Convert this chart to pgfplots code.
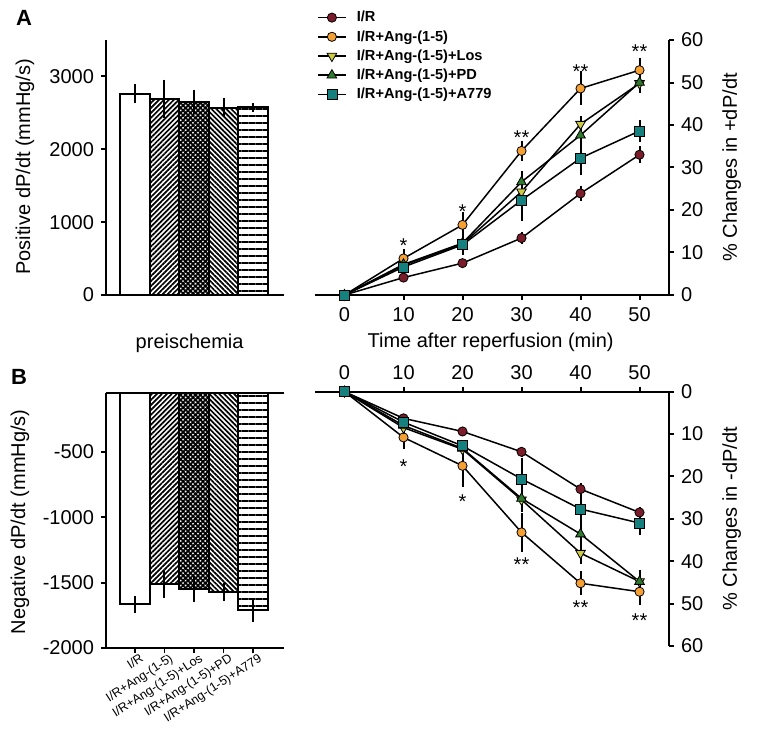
\documentclass[border=0pt]{standalone}
\usepackage{fontspec}
\setmainfont{Liberation Sans}
\usepackage{pgfplots}
\pgfplotsset{compat=1.18}
\usetikzlibrary{patterns.meta}
\definecolor{cIR}{HTML}{7B1C2A}
\definecolor{cAng}{HTML}{F5A033}
\definecolor{cLos}{HTML}{CDCB45}
\definecolor{cPD}{HTML}{2E7A2E}
\definecolor{cA}{HTML}{16807F}

\tikzset{star/.style={anchor=base, font=\fontsize{10}{12}\selectfont, inner sep=0pt}}
\pgfplotsset{
  base/.style={
    scale only axis,
    /pgf/number format/assume math mode=true,
    /pgf/number format/1000 sep={},
    tick label style={font=\fontsize{10}{12}\selectfont},
    label style={font=\fontsize{9}{11}\selectfont},
    axis line style={line width=1pt},
    every tick/.style={line width=1pt, black},
    major tick length=2.5pt,
    tick align=outside,
    separate axis lines,
  },
  eb/.style={error bars/y dir=both, error bars/y explicit, error bars/error mark=none,
    error bars/error bar style={line width=1pt, black}},
  barsty/.style={ybar, bar width=14.8pt, bar shift=0pt, draw=black, line width=1pt, eb},
  lp/.style={line width=0.75pt, black,
    mark options={draw=black, line width=0.4pt, solid}, eb},
  pNE/.style={pattern={Lines[angle=45,distance=1.75pt,line width=0.85pt]}},
  pX/.style={pattern={Hatch[angle=45,distance=1.75pt,line width=0.9pt]}},
  pNW/.style={pattern={Lines[angle=-45,distance=1.75pt,line width=0.85pt]}},
  pH/.style={pattern={Lines[angle=0,distance=3.5pt,line width=0.95pt]}},
}

\begin{document}
\begin{tikzpicture}
\useasboundingbox (0,0) rectangle (379pt,369.5pt);
\node[font=\bfseries\fontsize{11}{13}\selectfont] at (12pt,360.5pt) {A};
\node[font=\bfseries\fontsize{11}{13}\selectfont] at (9.5pt,181pt) {B};

% ---------------- A left
\begin{axis}[base,
  at={(53pt,222pt)}, anchor=south west,
  width=89pt, height=127.5pt,
  xmin=0.027, xmax=6.04, ymin=0, ymax=3500,
  axis x line*=bottom, axis y line*=left,
  xtick=\empty, ytick={0,1000,2000,3000},
  xlabel={preischemia}, ylabel={Positive dP/dt (mmHg/s)},
  every axis x label/.style={at={(axis description cs:0.47,-0.188)}, anchor=center},
  every axis y label/.style={at={(axis description cs:-0.455,0.503)}, rotate=90, anchor=center},
]
\addplot[barsty, fill=white] coordinates {(1,2760) +- (0,130)};
\addplot[barsty, pNE] coordinates {(2,2696) +- (0,260)};
\addplot[barsty, pX] coordinates {(3,2645) +- (0,165)};
\addplot[barsty, pNW] coordinates {(4,2568) +- (0,130)};
\addplot[barsty, pH] coordinates {(5,2576) +- (0,60)};
\end{axis}

% ---------------- A right
\begin{axis}[base,
  at={(157.5pt,222pt)}, anchor=south west,
  width=177pt, height=127.5pt,
  xmin=-5, xmax=55, ymin=0, ymax=60,
  axis x line*=bottom, axis y line*=right,
  xtick={0,10,20,30,40,50}, ytick={0,10,20,30,40,50,60},
  xlabel={Time after reperfusion (min)}, ylabel={\% Changes in +dP/dt},
  every axis x label/.style={at={(axis description cs:0.496,-0.187)}, anchor=center},
  every axis y label/.style={at={(axis description cs:1.177,0.5)}, rotate=90, anchor=center},
  clip=false,
  legend cell align=left,
  legend style={draw=none, fill=none, at={(axis description cs:-0.012,1.138)}, anchor=north west,
    font=\bfseries\fontsize{7.3}{8}\selectfont, row sep=1.2pt,
    nodes={inner sep=0.6pt, text height=5.7pt, text depth=1.5pt},
    /tikz/every odd column/.append style={column sep=4.5pt}},
  legend image code/.code={\draw[mark repeat=2,mark phase=2] plot coordinates {(0pt,0pt) (7pt,0pt) (14pt,0pt)};},
]
\addplot[lp, mark=*, mark size=2.3pt, every mark/.append style={fill=cIR}] coordinates {
 (0,0) +- (0,0) (10,4.1) +- (0,0.6) (20,7.5) +- (0,0.8) (30,13.4) +- (0,1.4) (40,23.9) +- (0,1.8) (50,33.0) +- (0,2.0)};
\addlegendentry{I/R}
\addplot[lp, mark=*, mark size=2.3pt, every mark/.append style={fill=cAng}] coordinates {
 (0,0) +- (0,0) (10,8.6) +- (0,2.2) (20,16.5) +- (0,3.0) (30,33.9) +- (0,2.4) (40,48.6) +- (0,4.0) (50,52.9) +- (0,2.8)};
\addlegendentry{I/R+Ang-(1-5)}
\addplot[lp, mark=triangle*, mark size=2.8pt, every mark/.append style={fill=cLos, rotate=180}] coordinates {
 (0,0) +- (0,0) (10,7.0) +- (0,1.0) (20,12.0) +- (0,1.5) (30,24.3) +- (0,2.5) (40,40.2) +- (0,2.0) (50,49.8) +- (0,2.0)};
\addlegendentry{I/R+Ang-(1-5)+Los}
\addplot[lp, mark=triangle*, mark size=2.8pt, every mark/.append style={fill=cPD}] coordinates {
 (0,0) +- (0,0) (10,7.2) +- (0,1.0) (20,12.2) +- (0,1.5) (30,26.6) +- (0,2.6) (40,37.6) +- (0,3.0) (50,50.0) +- (0,2.5)};
\addlegendentry{I/R+Ang-(1-5)+PD}
\addplot[lp, mark=square*, mark size=2.5pt, every mark/.append style={fill=cA}] coordinates {
 (0,0) +- (0,0) (10,6.6) +- (0,1.2) (20,11.8) +- (0,2.5) (30,22.3) +- (0,4.9) (40,32.2) +- (0,4.0) (50,38.6) +- (0,2.6)};
\addlegendentry{I/R+Ang-(1-5)+A779}
\node[star] at (axis cs:10,10.1) {*};
\node[star] at (axis cs:20,17.9) {*};
\node[star] at (axis cs:30,35.4) {**};
\node[star] at (axis cs:40,50.9) {**};
\node[star] at (axis cs:50,55.6) {**};
\end{axis}

% ---------------- B left
\begin{axis}[base,
  at={(53pt,45.5pt)}, anchor=south west,
  width=89pt, height=127.5pt,
  xmin=0.027, xmax=6.04, ymin=-2000, ymax=-50,
  axis x line*=box, axis y line*=left,
  xtick={1,2,3,4,5},
  xticklabels={I/R, I/R+Ang-(1-5), I/R+Ang-(1-5)+Los, I/R+Ang-(1-5)+PD, I/R+Ang-(1-5)+A779},
  xtick pos=left, xticklabel pos=left,
  major x tick style={line width=0.8pt},
  xticklabel style={rotate=33, anchor=north east, font=\fontsize{6.3}{7}\selectfont, inner sep=1pt, xshift=3pt},
  ytick={-2000,-1500,-1000,-500},
  ylabel={Negative dP/dt (mmHg/s)},
  every axis y label/.style={at={(axis description cs:-0.483,0.495)}, rotate=90, anchor=center},
]
\addplot[barsty, fill=white] coordinates {(1,-1667) +- (0,65)};
\addplot[barsty, pNE] coordinates {(2,-1514) +- (0,105)};
\addplot[barsty, pX] coordinates {(3,-1552) +- (0,100)};
\addplot[barsty, pNW] coordinates {(4,-1570) +- (0,70)};
\addplot[barsty, pH] coordinates {(5,-1710) +- (0,92)};
\end{axis}

% ---------------- B right
\begin{axis}[base,
  at={(157.5pt,46.5pt)}, anchor=south west,
  width=177pt, height=127.2pt,
  xmin=-5, xmax=55, ymin=0, ymax=60, y dir=reverse,
  axis x line*=top, axis y line*=right,
  xtick={0,10,20,30,40,50}, ytick={0,10,20,30,40,50,60},
  ylabel={\% Changes in -dP/dt},
  every axis y label/.style={at={(axis description cs:1.177,0.5)}, rotate=90, anchor=center},
  clip=false,
]
\addplot[lp, mark=*, mark size=2.3pt, every mark/.append style={fill=cIR}] coordinates {
 (0,0) +- (0,0) (10,6.3) +- (0,0.8) (20,9.4) +- (0,1.0) (30,14.2) +- (0,1.2) (40,23.0) +- (0,1.5) (50,28.5) +- (0,1.2)};
\addplot[lp, mark=*, mark size=2.3pt, every mark/.append style={fill=cAng}] coordinates {
 (0,0) +- (0,0) (10,10.8) +- (0,2.8) (20,17.5) +- (0,4.9) (30,33.2) +- (0,4.6) (40,45.2) +- (0,2.8) (50,47.2) +- (0,3.1)};
\addplot[lp, mark=triangle*, mark size=2.8pt, every mark/.append style={fill=cLos, rotate=180}] coordinates {
 (0,0) +- (0,0) (10,8.5) +- (0,1.5) (20,13.6) +- (0,1.5) (30,25.5) +- (0,3.0) (40,38.1) +- (0,2.5) (50,44.8) +- (0,2.5)};
\addplot[lp, mark=triangle*, mark size=2.8pt, every mark/.append style={fill=cPD}] coordinates {
 (0,0) +- (0,0) (10,8.0) +- (0,1.0) (20,13.4) +- (0,1.5) (30,25.2) +- (0,3.0) (40,33.6) +- (0,3.0) (50,44.8) +- (0,2.7)};
\addplot[lp, mark=square*, mark size=2.5pt, every mark/.append style={fill=cA}] coordinates {
 (0,0) +- (0,0) (10,7.2) +- (0,1.0) (20,12.8) +- (0,1.5) (30,20.6) +- (0,5.0) (40,27.7) +- (0,4.5) (50,31.0) +- (0,2.8)};
\node[star] at (axis cs:10,19.2) {*};
\node[star] at (axis cs:20,27.5) {*};
\node[star] at (axis cs:30,42.4) {**};
\node[star] at (axis cs:40,52.5) {**};
\node[star] at (axis cs:50,55.6) {**};
\end{axis}
\end{tikzpicture}
\end{document}
